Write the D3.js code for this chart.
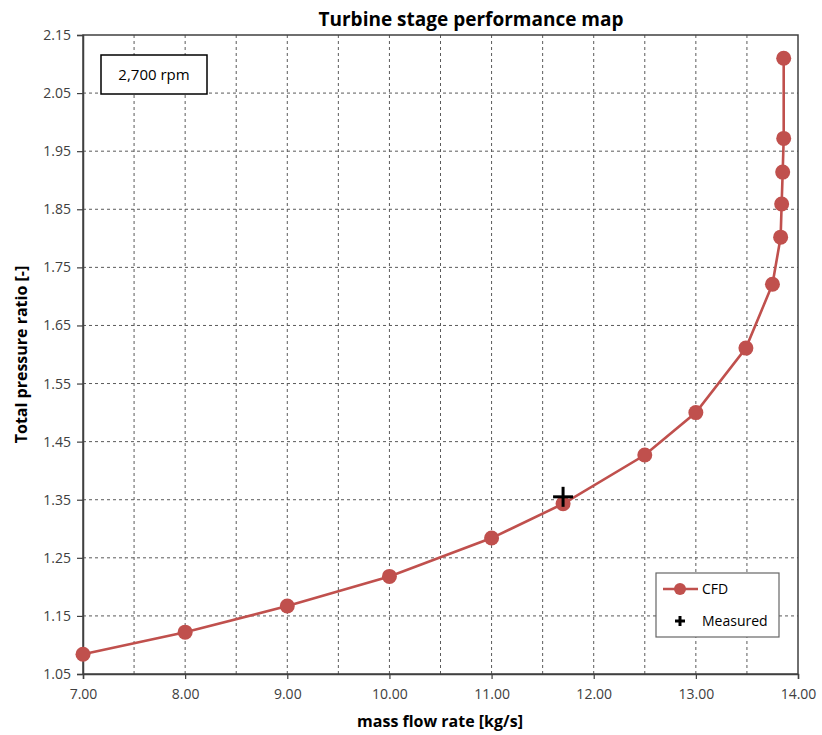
<!DOCTYPE html>
<html>
<head>
<meta charset="utf-8">
<script src="https://cdn.jsdelivr.net/npm/d3@7"></script>
<style>
  body { margin: 0; background: #fff; }
  svg { font-family: "Open Sans", "Noto Sans", sans-serif; }
</style>
</head>
<body>
<svg id="chart" width="822" height="735"></svg>
<script>
// CFD operating line at 2,700 rpm
const massFlow = [7.00, 8.00, 9.00, 10.00, 11.00, 11.70, 12.50, 13.00, 13.49, 13.75, 13.83, 13.84, 13.85, 13.86, 13.86];
const pressureRatio = [1.084, 1.122, 1.167, 1.218, 1.284, 1.343, 1.427, 1.500, 1.611, 1.721, 1.802, 1.859, 1.914, 1.972, 2.110];

// Single measured operating point
const measuredFlow = [11.70];
const measuredRatio = [1.355];

// Axis ticks
const xTicks = [7, 8, 9, 10, 11, 12, 13, 14];
const xGrid = [7.5, 8, 8.5, 9, 9.5, 10, 10.5, 11, 11.5, 12, 12.5, 13, 13.5];
const yTicks = [1.05, 1.15, 1.25, 1.35, 1.45, 1.55, 1.65, 1.75, 1.85, 1.95, 2.05, 2.15];

const svg = d3.select("#chart");
const margin = { left: 83, right: 24, top: 35, bottom: 61 };
const W = 822, H = 735;
const x = d3.scaleLinear().domain([7, 14]).range([margin.left, W - margin.right]);
const y = d3.scaleLinear().domain([1.05, 2.15]).range([H - margin.bottom, margin.top]);

const red = "#c0504d";
const axisColor = "#404040";

// Grid
const grid = svg.append("g");
grid.selectAll("line.v").data(xGrid).join("line")
  .attr("x1", d => x(d)).attr("x2", d => x(d))
  .attr("y1", y(2.15)).attr("y2", y(1.05))
  .attr("stroke", "#5a5a5a").attr("stroke-width", 1).attr("stroke-dasharray", "3,3");
grid.selectAll("line.h").data(yTicks.slice(1, -1)).join("line")
  .attr("x1", x(7)).attr("x2", x(14))
  .attr("y1", d => y(d)).attr("y2", d => y(d))
  .attr("stroke", "#5a5a5a").attr("stroke-width", 1).attr("stroke-dasharray", "3,3");

// Plot frame
svg.append("rect")
  .attr("x", x(7)).attr("y", y(2.15))
  .attr("width", x(14) - x(7)).attr("height", y(1.05) - y(2.15))
  .attr("fill", "none").attr("stroke", axisColor).attr("stroke-width", 1.5);

// Axes
const xAxis = svg.append("g")
  .attr("transform", `translate(0,${y(1.05)})`)
  .call(d3.axisBottom(x).tickValues(xTicks).tickFormat(d3.format(".2f")).tickSize(5).tickPadding(10));
const yAxis = svg.append("g")
  .attr("transform", `translate(${x(7)},0)`)
  .call(d3.axisLeft(y).tickValues(yTicks).tickFormat(d3.format(".2f")).tickSize(6).tickPadding(6));
[xAxis, yAxis].forEach(a => {
  a.select(".domain").attr("stroke", axisColor).attr("stroke-width", 1.5);
  a.selectAll(".tick line").attr("stroke", axisColor).attr("stroke-width", 1.2);
  a.selectAll(".tick text").attr("fill", "#404040").attr("font-size", 14)
    .attr("font-family", "Open Sans, sans-serif");
});
xAxis.selectAll(".tick text").attr("dy", "0.71em");

// CFD line and markers
const pts = massFlow.map((m, i) => [m, pressureRatio[i]]);
svg.append("path")
  .datum(pts)
  .attr("fill", "none").attr("stroke", red).attr("stroke-width", 2.6)
  .attr("d", d3.line().x(d => x(d[0])).y(d => y(d[1])));
svg.append("g").selectAll("circle").data(pts).join("circle")
  .attr("cx", d => x(d[0])).attr("cy", d => y(d[1])).attr("r", 7.5)
  .attr("fill", red);

// Measured point
svg.append("g").selectAll("g").data(measuredFlow.map((m, i) => [m, measuredRatio[i]])).join("g")
  .attr("transform", d => `translate(${x(d[0])},${y(d[1])})`)
  .each(function () {
    const g = d3.select(this);
    g.append("line").attr("x1", -10).attr("x2", 10).attr("stroke", "#000").attr("stroke-width", 3);
    g.append("line").attr("y1", -10).attr("y2", 10).attr("stroke", "#000").attr("stroke-width", 3);
  });

// Title and axis labels
svg.append("text").attr("x", 471).attr("y", 26).attr("text-anchor", "middle")
  .attr("font-size", 19).attr("font-weight", "bold").attr("fill", "#000")
  .text("Turbine stage performance map");
svg.append("text").attr("x", 440).attr("y", 727).attr("text-anchor", "middle")
  .attr("font-size", 16).attr("font-weight", "bold").attr("fill", "#000")
  .text("mass flow rate [kg/s]");
svg.append("text")
  .attr("transform", `translate(27,${(y(1.05) + y(2.15)) / 2}) rotate(-90)`)
  .attr("text-anchor", "middle")
  .attr("font-size", 16).attr("font-weight", "bold").attr("fill", "#000")
  .text("Total pressure ratio [-]");

// Speed annotation
svg.append("rect").attr("x", 101).attr("y", 55).attr("width", 106).attr("height", 39)
  .attr("fill", "#fff").attr("stroke", "#000").attr("stroke-width", 1.5);
svg.append("text").attr("x", 154).attr("y", 80).attr("text-anchor", "middle")
  .attr("font-size", 15).attr("fill", "#000").text("2,700 rpm");

// Legend
const lg = svg.append("g").attr("transform", "translate(656,573)");
lg.append("rect").attr("width", 123).attr("height", 64)
  .attr("fill", "#fff").attr("stroke", "#666").attr("stroke-width", 1.2);
lg.append("line").attr("x1", 7).attr("x2", 42).attr("y1", 16).attr("y2", 16)
  .attr("stroke", red).attr("stroke-width", 2.6);
lg.append("circle").attr("cx", 24).attr("cy", 16).attr("r", 6).attr("fill", red);
lg.append("text").attr("x", 46).attr("y", 21).attr("font-size", 14).attr("fill", "#000").text("CFD");
lg.append("line").attr("x1", 19).attr("x2", 29).attr("y1", 48).attr("y2", 48).attr("stroke", "#000").attr("stroke-width", 3);
lg.append("line").attr("x1", 24).attr("x2", 24).attr("y1", 43).attr("y2", 53).attr("stroke", "#000").attr("stroke-width", 3);
lg.append("text").attr("x", 46).attr("y", 53).attr("font-size", 14).attr("fill", "#000").text("Measured");
</script>
</body>
</html>
